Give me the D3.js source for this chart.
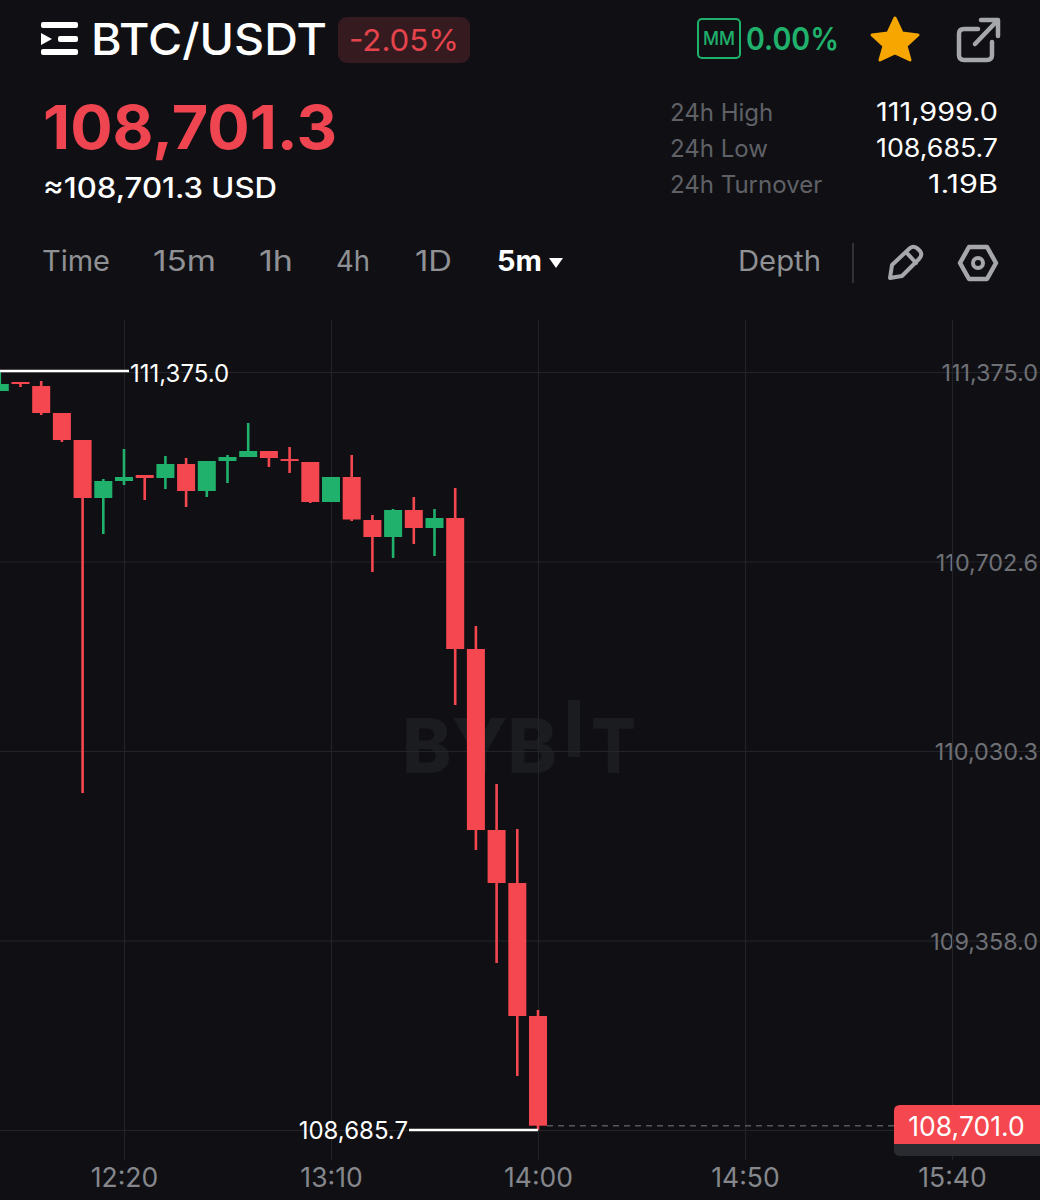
<!DOCTYPE html>
<html>
<head>
<meta charset="utf-8">
<script src="https://cdn.jsdelivr.net/npm/d3@7"></script>
<style>
  html, body { margin: 0; padding: 0; background: #101014; }
  svg { display: block; font-family: "Inter", "Noto Sans", sans-serif; }
</style>
</head>
<body>
<svg id="chart" width="1040" height="1200"></svg>
<script>
// Candle data, 5m bars
var times = ["11:50","11:55","12:00","12:05","12:10","12:15","12:20","12:25","12:30","12:35","12:40","12:45","12:50","12:55",
             "13:00","13:05","13:10","13:15","13:20","13:25","13:30","13:35","13:40","13:45","13:50","13:55","14:00"];
var opens  = [111307.6,111339.5,111325.3,111229.5,111133.7,110928.0,110988.3,111009.6,110998.9,111048.6,110952.8,111059.2,111073.4,111094.7,
              111066.3,111055.7,110913.8,111002.5,110849.9,110789.6,110885.4,110821.5,110857.0,110392.2,109750.0,109562.0,109090.1];
var closes = [111332.4,111332.4,111229.5,111133.7,110928.0,110988.3,111002.5,110998.9,111048.6,110952.8,111059.2,111073.4,111094.7,111069.9,
              111059.2,110913.8,111002.5,110851.7,110789.6,110885.4,110821.5,110857.0,110392.2,109750.0,109562.0,109090.1,108701.0];
var highs  = [111375.0,111339.5,111343.1,111229.5,111133.7,110995.4,111101.8,111009.6,111077.0,111069.9,111059.2,111080.5,111194.1,111094.7,
              111108.9,111055.7,111002.5,111080.5,110867.6,110888.9,110931.5,110888.9,110963.4,110473.8,109913.2,109753.6,109111.4];
var lows   = [111307.6,111321.8,111222.4,111126.6,109881.3,110800.2,110974.1,110920.9,110959.9,110896.0,110931.5,110981.2,111073.4,111037.9,
              111016.7,110910.2,110913.8,110846.3,110665.4,110715.1,110764.7,110722.2,110193.5,109679.0,109278.1,108877.2,108685.7];

var yTicks = [111375.0, 110702.6, 110030.3, 109358.0, 108685.7];
var xTicks = ["12:20","13:10","14:00","14:50","15:40"];

var highMark = 111375.0;
var lowMark = 108685.7;
var lastPrice = 108701.0;

var statLabels = ["24h High","24h Low","24h Turnover"];
var statValues = ["111,999.0","108,685.7","1.19B"];
var tabNames = ["Time","15m","1h","4h","1D"];

// Colors
var red = "#f5474f";
var green = "#20b26c";
var gridColor = "#232429";
var iconGray = "#a5a7ab";

var svg = d3.select("#chart");

function toMin(t) {
  var p = t.split(":");
  return +p[0] * 60 + +p[1];
}

// stretch a text to the width it has on the picture
function fit(sel, w) {
  return sel.attr("textLength", w).attr("lengthAdjust", "spacingAndGlyphs");
}

// 50 minutes is 207 pixels on the picture
var x = d3.scaleLinear().domain([toMin("12:20"), toMin("15:40")]).range([124, 952]);
var y = d3.scaleLinear().domain([111375.0, 108685.7]).range([372, 1130]);
var fmt = d3.format(",.1f");

svg.append("rect").attr("width", 1040).attr("height", 1200).attr("fill", "#101014");

/* ******** Watermark ******** */
var wm = svg.append("g").attr("fill", "#1b1c20").attr("font-weight", 800).attr("font-size", 76);
fit(wm.append("text").attr("x", 402).attr("y", 773).text("BYB"), 155);
wm.append("rect").attr("x", 568).attr("y", 700).attr("width", 12).attr("height", 57);
fit(wm.append("text").attr("x", 591).attr("y", 773).text("T"), 45);

/* ******** Axes and grid ******** */
// the lowest label sits behind the price tag on the picture, so it stays empty
var yAxis = d3.axisLeft(y).tickValues(yTicks)
  .tickFormat(function (d) { return d == lowMark ? "" : fmt(d); }).tickSize(1040);
var gy = svg.append("g").attr("transform", "translate(1040,0)").call(yAxis);
gy.select(".domain").remove();
gy.selectAll("line").attr("stroke", gridColor).attr("stroke-width", 1);
gy.selectAll("text").attr("text-anchor", "end").attr("x", -2).attr("y", 1).attr("dy", "0.32em")
  .attr("font-size", 23.4).attr("font-family", "Inter, sans-serif").attr("fill", "#6e7076");

var xAxis = d3.axisBottom(x).tickValues(xTicks.map(toMin))
  .tickFormat(function (d, i) { return xTicks[i]; }).tickSize(-840).tickPadding(13);
var gx = svg.append("g").attr("transform", "translate(0,1160)").call(xAxis);
gx.select(".domain").remove();
gx.selectAll("line").attr("stroke", gridColor).attr("stroke-width", 1);
gx.selectAll("text").attr("font-size", 26.5).attr("font-family", "Inter, sans-serif").attr("fill", "#85878c")
  .attr("y", 19).attr("dy", "0.32em").attr("dominant-baseline", "auto");

/* ******** Candles ******** */
var candles = svg.append("g").selectAll("g").data(times).enter().append("g");
function isUp(i) { return closes[i] >= opens[i]; }

candles.append("line")
  .attr("x1", function (d) { return x(toMin(d)); })
  .attr("x2", function (d) { return x(toMin(d)); })
  .attr("y1", function (d, i) { return y(highs[i]); })
  .attr("y2", function (d, i) { return y(lows[i]); })
  .attr("stroke", function (d, i) { return isUp(i) ? green : red; })
  .attr("stroke-width", 2.6);

candles.append("rect")
  .attr("x", function (d) { return x(toMin(d)) - 9; })
  .attr("width", 18)
  .attr("y", function (d, i) { return y(Math.max(opens[i], closes[i])); })
  .attr("height", function (d, i) { return Math.max(2, Math.abs(y(opens[i]) - y(closes[i]))); })
  .attr("fill", function (d, i) { return isUp(i) ? green : red; });

/* ******** High, low and last price ******** */
svg.append("line").attr("x1", 0).attr("x2", 129).attr("y1", y(highMark) - 1).attr("y2", y(highMark) - 1)
  .attr("stroke", "#fff").attr("stroke-width", 2.4);
svg.append("text").attr("x", 130).attr("y", y(highMark) + 9.5).attr("font-size", 24).attr("fill", "#fff").text(fmt(highMark));

svg.append("line").attr("x1", 409).attr("x2", x(toMin("14:00"))).attr("y1", y(lowMark)).attr("y2", y(lowMark))
  .attr("stroke", "#fff").attr("stroke-width", 2.4);
svg.append("text").attr("x", 408).attr("y", y(lowMark) + 9).attr("text-anchor", "end").attr("font-size", 24).attr("fill", "#fff").text(fmt(lowMark));

svg.append("line").attr("x1", x(toMin("14:00")) + 9).attr("x2", 894).attr("y1", y(lastPrice)).attr("y2", y(lastPrice))
  .attr("stroke", "#55575c").attr("stroke-width", 1.5).attr("stroke-dasharray", "6 5");

svg.append("path").attr("d", "M894,1144 V1150 Q894,1156 900,1156 H1040 V1144 Z").attr("fill", "#292b30");
svg.append("path").attr("d", "M894,1144 V1111 Q894,1105 900,1105 H1040 V1144 Z").attr("fill", red);
svg.append("text").attr("x", 966.5).attr("y", 1136).attr("text-anchor", "middle").attr("font-size", 26.5).attr("fill", "#fff").text(fmt(lastPrice));

/* ******** Header ******** */
var head = svg.append("g");

// menu icon
head.append("rect").attr("x", 41).attr("y", 22).attr("width", 37).attr("height", 6).attr("rx", 2).attr("fill", "#fff");
head.append("rect").attr("x", 58).attr("y", 36).attr("width", 20).attr("height", 6).attr("rx", 2).attr("fill", "#fff");
head.append("rect").attr("x", 41).attr("y", 49).attr("width", 37).attr("height", 6).attr("rx", 2).attr("fill", "#fff");
head.append("path").attr("d", "M41,33 L52,39 L41,45 Z").attr("fill", "#fff");

fit(head.append("text").attr("x", 91).attr("y", 55).attr("font-size", 44).attr("font-weight", 500).attr("fill", "#fff").text("BTC/USDT"), 236);

head.append("rect").attr("x", 338).attr("y", 17).attr("width", 132).attr("height", 46).attr("rx", 9).attr("fill", "#351b20");
fit(head.append("text").attr("x", 349).attr("y", 51).attr("font-size", 30).attr("fill", "#e5444c").text("-2.05%"), 110);

head.append("rect").attr("x", 698).attr("y", 19).attr("width", 42).attr("height", 39).attr("rx", 4)
  .attr("fill", "none").attr("stroke", green).attr("stroke-width", 2);
fit(head.append("text").attr("x", 703).attr("y", 45).attr("font-size", 18).attr("font-weight", 500).attr("fill", green).text("MM"), 32);
fit(head.append("text").attr("x", 746).attr("y", 50).attr("font-size", 31).attr("font-weight", 600).attr("fill", green).text("0.00%"), 93);

// star
head.append("path").attr("fill", "#f7a600").attr("stroke", "#f7a600").attr("stroke-width", 3).attr("stroke-linejoin", "round")
  .attr("d", "M895,18 L902,33 L918,35 L906,46 L910,60 L895,53 L880,60 L884,46 L872,35 L888,33 Z");

// share icon
head.append("path").attr("fill", "none").attr("stroke", iconGray).attr("stroke-width", 4.5).attr("stroke-linejoin", "round").attr("stroke-linecap", "round")
  .attr("d", "M978,29 H964 Q959,29 959,34 V55 Q959,60 964,60 H987 Q992,60 992,55 V42");
head.append("path").attr("fill", "none").attr("stroke", iconGray).attr("stroke-width", 4.5).attr("stroke-linejoin", "round").attr("stroke-linecap", "round")
  .attr("d", "M975,44 L997,21 M981,20 H998 V36");

fit(head.append("text").attr("x", 43).attr("y", 149).attr("font-size", 60).attr("font-weight", 700).attr("fill", "#ef4550").text("108,701.3"), 294);
fit(head.append("text").attr("x", 43).attr("y", 198).attr("font-size", 28).attr("font-weight", 500).attr("fill", "#fff").text("≈108,701.3 USD"), 234);

// stats table
head.selectAll(".statLabel").data(statLabels).enter().append("text").attr("class", "statLabel")
  .attr("x", 670).attr("y", function (d, i) { return 121 + i * 36; })
  .attr("font-size", 24).attr("fill", "#5f6167").text(function (d) { return d; });
var statWidths = [122, 122, 70];
head.selectAll(".statValue").data(statValues).enter().append("text").attr("class", "statValue")
  .attr("x", function (d, i) { return 998 - statWidths[i]; }).attr("y", function (d, i) { return 121 + i * 36; })
  .attr("font-size", 25).attr("fill", "#fff")
  .attr("textLength", function (d, i) { return statWidths[i]; }).attr("lengthAdjust", "spacingAndGlyphs")
  .text(function (d) { return d; });

// interval tabs
var tabLefts = [42, 153, 259, 336, 415];
var tabWidths = [68, 63, 34, 34, 37];
head.selectAll(".tab").data(tabNames).enter().append("text").attr("class", "tab")
  .attr("x", function (d, i) { return tabLefts[i]; }).attr("y", 271)
  .attr("font-size", 28).attr("fill", "#8f9195")
  .attr("textLength", function (d, i) { return tabWidths[i]; }).attr("lengthAdjust", "spacingAndGlyphs")
  .text(function (d) { return d; });
fit(head.append("text").attr("x", 497).attr("y", 271).attr("font-size", 28).attr("font-weight", 700).attr("fill", "#fff").text("5m"), 45);
head.append("path").attr("d", "M549,258 H563 L556,268 Z").attr("fill", "#fff");
fit(head.append("text").attr("x", 738).attr("y", 271).attr("font-size", 28).attr("fill", "#8f9195").text("Depth"), 83);
head.append("line").attr("x1", 853).attr("x2", 853).attr("y1", 243).attr("y2", 283).attr("stroke", "#303236").attr("stroke-width", 2);

// pencil
head.append("path").attr("fill", "none").attr("stroke", iconGray).attr("stroke-width", 4).attr("stroke-linejoin", "round").attr("stroke-linecap", "round")
  .attr("d", "M890,278 L892,265 L910,248 Q914,245 918,249 L920,251 Q923,255 919,259 L902,276 Z M906,252 L916,263");

// settings hexagon
head.append("path").attr("fill", "none").attr("stroke", iconGray).attr("stroke-width", 4.5).attr("stroke-linejoin", "round")
  .attr("d", "M969,247 H987 L996,263 L987,279 H969 L960,263 Z");
head.append("circle").attr("cx", 978).attr("cy", 263).attr("r", 5).attr("fill", "none").attr("stroke", iconGray).attr("stroke-width", 4);
</script>
</body>
</html>
